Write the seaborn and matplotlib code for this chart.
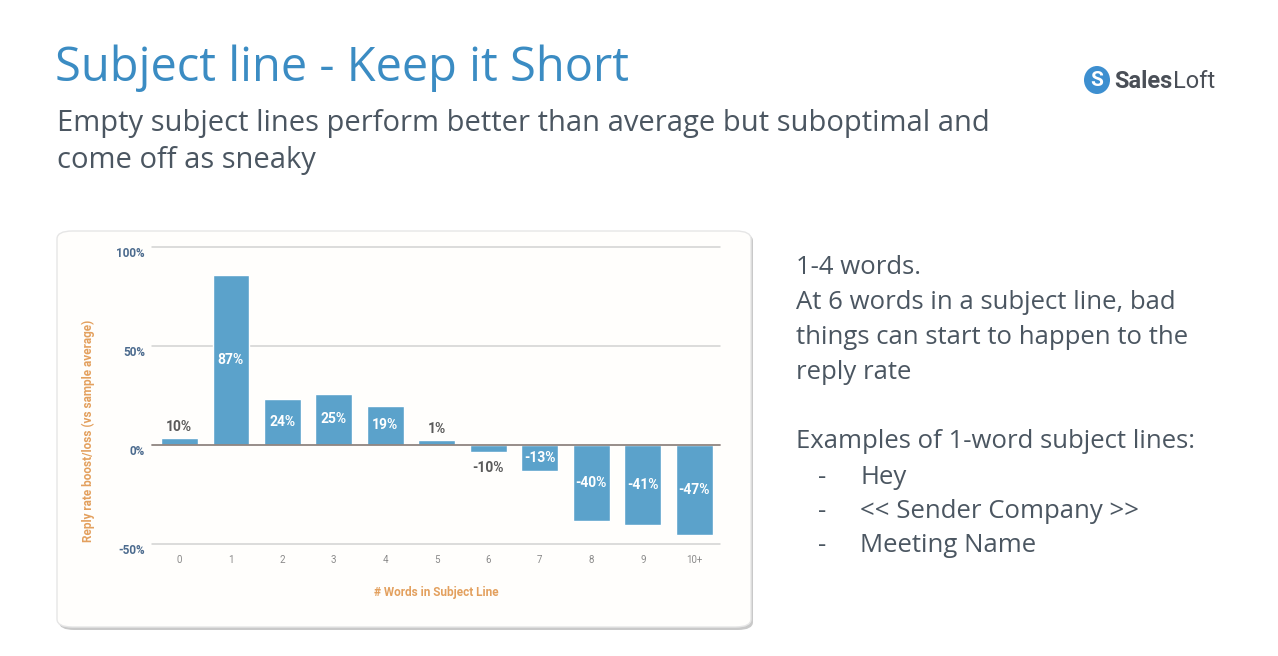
import numpy as np
import pandas as pd
import matplotlib
matplotlib.use("Agg")
import matplotlib.pyplot as plt
from matplotlib.patches import FancyBboxPatch, Ellipse
import seaborn as sns

# ─── DATA ────────────────────────────────────────────────────────────────────
word_counts = ["0", "1", "2", "3", "4", "5", "6", "7", "8", "9", "10+"]
bar_heights = [3.7, 86, 23.3, 26, 19.9, 2.4, -3.7, -13, -38.2, -40.4, -45.5]
bar_labels = ["10%", "87%", "24%", "25%", "19%", "1%", "-10%", "-13%",
              "-40%", "-41%", "-47%"]
y_ticks = [-50, 0, 50, 100]
y_tick_labels = ["-50%", "0%", "50%", "100%"]

title = "Subject line - Keep it Short"
subtitle = ["Empty subject lines perform better than average but suboptimal and",
            "come off as sneaky"]
notes = ["1-4 words.",
         "At 6 words in a subject line, bad",
         "things can start to happen to the",
         "reply rate",
         "",
         "Examples of 1-word subject lines:"]
examples = ["Hey", "<< Sender Company >>", "Meeting Name"]

df = pd.DataFrame({"words": word_counts, "boost": bar_heights})

# ─── STYLE ───────────────────────────────────────────────────────────────────
sns.set_theme(style="white")
plt.rcParams["font.family"] = ["Roboto", "DejaVu Sans"]
SLIDE_FONT = ["Open Sans", "DejaVu Sans"]

BLUE = "#5ba2cb"
TITLE_BLUE = "#3b8cc3"
TEXT = "#4b5661"
ORANGE = "#e3a05e"
TICK_BLUE = "#4c6b8e"

W, H = 1278, 656
fig = plt.figure(figsize=(W / 100, H / 100), dpi=100)
fig.patch.set_facecolor("white")

def fx(px):
    return px / W

def fy(py):
    return 1 - py / H

# card with shadow
shadow = FancyBboxPatch((fx(59), fy(630)), fx(694), (630 - 233) / H,
                        boxstyle="round,pad=0,rounding_size=0.012",
                        transform=fig.transFigure, facecolor="#c9c9c9",
                        edgecolor="none", zorder=0)
card = FancyBboxPatch((fx(57), fy(627)), fx(694), (627 - 231) / H,
                      boxstyle="round,pad=0,rounding_size=0.012",
                      transform=fig.transFigure, facecolor="#fffefc",
                      edgecolor="#e6e6e6", lw=1, zorder=1)
fig.patches.extend([shadow, card])

# ─── CHART ───────────────────────────────────────────────────────────────────
ax = fig.add_axes([fx(152), fy(544), fx(720 - 152), (544 - 247) / H])
ax.set_facecolor("none")
ax.set_zorder(2)

sns.barplot(data=df, x="words", y="boost", color=BLUE, saturation=1,
            width=0.71, ax=ax, zorder=3)

ax.set_xlim(-0.53, 10.5)
ax.set_ylim(-50, 100)
ax.set_yticks(y_ticks)
ax.set_yticklabels(y_tick_labels)
for y in y_ticks:
    ax.axhline(y, color="#8f8580" if y == 0 else "#d2d2d2",
               lw=1.3 if y == 0 else 1.1, zorder=4 if y == 0 else 1,
               clip_on=False)

for s in ax.spines.values():
    s.set_visible(False)
ax.tick_params(axis="y", length=0, pad=5, labelsize=8.5, labelcolor=TICK_BLUE)
ax.tick_params(axis="x", length=0, pad=8, labelsize=7, labelcolor="#8a8a8a")
for t in ax.get_yticklabels():
    t.set_fontweight("bold")
    t.set_va("top")

# bar value labels: centred inside big bars, outside the small ones
bars = ax.containers[0]
for rect, h, lab in zip(bars, bar_heights, bar_labels):
    cx = rect.get_x() + rect.get_width() / 2
    if abs(h) >= 10:
        ax.text(cx, h / 2, lab, ha="center", va="center", color="white",
                fontsize=10, fontweight="bold", zorder=5)
    elif h > 0:
        ax.annotate(lab, (cx, h), xytext=(0, 3), textcoords="offset points",
                    ha="center", va="bottom", color="#5a5a5a", fontsize=10,
                    fontweight="bold", zorder=5)
    else:
        ax.annotate(lab, (cx, h), xytext=(0, -6), textcoords="offset points",
                    ha="center", va="top", color="#5a5a5a", fontsize=10,
                    fontweight="bold", zorder=5)

ax.set_xlabel("# Words in Subject Line", color=ORANGE, fontsize=8.5,
              fontweight="bold", labelpad=15)
ax.set_ylabel("Reply rate boost/loss (vs sample average)", color=ORANGE,
              fontsize=8.5, fontweight="bold")
ax.yaxis.set_label_coords(-0.100, 0.38)

# ─── SLIDE TEXT ──────────────────────────────────────────────────────────────
fig.text(fx(55), fy(68), title, color=TITLE_BLUE, fontsize=33.8,
         family=SLIDE_FONT, ha="left", va="center")
for i, line in enumerate(subtitle):
    fig.text(fx(57), fy(123 + i * 38), line, color=TEXT, fontsize=21,
             family=SLIDE_FONT, ha="left", va="center")

line_h = 34.8
for i, line in enumerate(notes):
    fig.text(fx(796), fy(268 + i * line_h), line, color=TEXT, fontsize=18.5,
             family=SLIDE_FONT, ha="left", va="center")
for i, ex in enumerate(examples):
    y = 477 + i * 34.5
    fig.text(fx(818), fy(y), "-", color=TEXT, fontsize=18.5,
             family=SLIDE_FONT, ha="left", va="center")
    fig.text(fx(860), fy(y), ex, color=TEXT, fontsize=18.5,
             family=SLIDE_FONT, ha="left", va="center")

# SalesLoft logo
logo = Ellipse((fx(1097), fy(80)), fx(26), 28 / H, transform=fig.transFigure,
               facecolor="#3d8fd0", edgecolor="none")
fig.patches.append(logo)
fig.text(fx(1097), fy(81), "S", color="white", fontsize=15, fontweight="bold",
         ha="center", va="center")
fig.text(fx(1114), fy(81), "Sales", color="#4a4f57", fontsize=17,
         fontweight="bold", ha="left", va="center")
fig.text(fx(1173), fy(81), "Loft", color="#4a4f57", fontsize=17,
         ha="left", va="center")

fig.savefig("out.png", dpi=100)
